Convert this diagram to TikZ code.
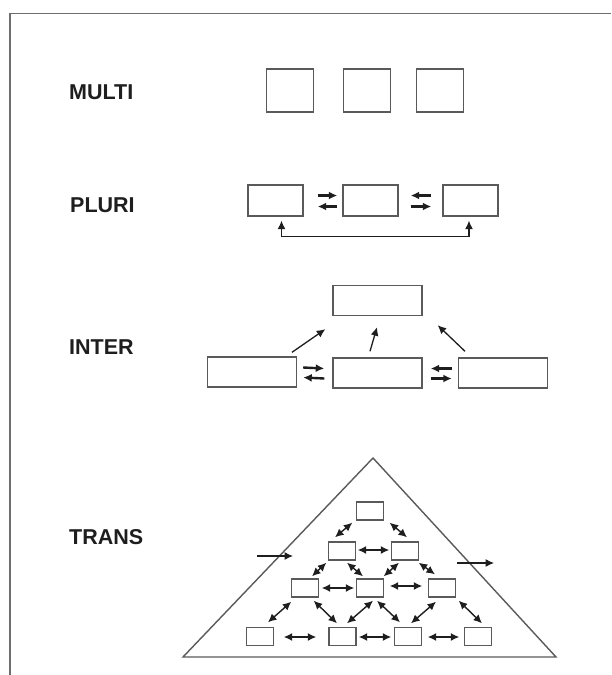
\documentclass[tikz,border=0pt]{standalone}
\usepackage{fontspec}
\setmainfont{Liberation Sans}
\usetikzlibrary{arrows.meta,calc}
\definecolor{boxgray}{HTML}{5A5A5A}
\definecolor{framegray}{HTML}{6E6E6E}
\definecolor{ink}{HTML}{1E1E1E}
\begin{document}
\begin{tikzpicture}[x=1pt,y=-1pt,
  lbl/.style={anchor=west,inner sep=0pt,text=ink,font=\fontsize{21.5}{25}\selectfont\bfseries},
  cell/.style={draw=boxgray,line width=1.4pt,inner sep=0pt,minimum width=#1},
  sq/.style={cell=47pt,minimum height=43pt},
  wide/.style={cell=55pt,minimum height=31pt},
  long/.style={cell=89pt,minimum height=30pt},
  small/.style={cell=27pt,minimum height=18pt},
  head/.tip={Latex[length=8.5pt,width=8pt]},
  tip/.style={-head,draw=ink,line width=2.4pt},
  both/.style={head-head,draw=ink,line width=1.4pt},
  thin/.style={-head,draw=ink,line width=1.1pt}]
\useasboundingbox (0,0) rectangle (611,675);
\fill[white] (0,0) rectangle (611,675);

% open frame: top and left edges only
\draw[framegray,line width=1.5pt] (10,675) -- (10,13.5) -- (611,13.5);

% row labels
\node[lbl] (lmulti) at (69,92) {MULTI};
\node[lbl] (lpluri) at (70,205) {PLURI};
\node[lbl] (linter) at (69,347) {INTER};
\node[lbl] (ltrans) at (69,537) {TRANS};

% MULTI: three separate boxes
\node[sq] (m1) at (290,90.5) {};
\node[sq] (m2) at (367,90.5) {};
\node[sq] (m3) at (440,90.5) {};

% PLURI: boxes with exchanges between neighbours
\node[wide] (p1) at (275.5,200.5) {};
\node[wide] (p2) at (370.5,200.5) {};
\node[wide] (p3) at (470.5,200.5) {};
\draw[tip] ([shift={(14,-5)}]p1.east) -- ([shift={(-5,-5)}]p2.west);
\draw[tip] ([shift={(-5,6)}]p2.west) -- ([shift={(14,6)}]p1.east);
\draw[tip] ([shift={(-11,-5)}]p3.west) -- ([shift={(12,-5)}]p2.east);
\draw[tip] ([shift={(12,6)}]p2.east) -- ([shift={(-11,6)}]p3.west);
\draw[head-head,draw=ink,line width=1.1pt] ([shift={(6,4)}]p1.south) -- ++(0,16) -| ([shift={(-1.5,4)}]p3.south);

% INTER: three boxes feeding a common box
\node[long] (i0) at (377.5,300.5) {};
\node[long] (i1) at (252,372) {};
\node[long] (i2) at (377.5,373) {};
\node[long] (i3) at (503,373) {};
\draw[thin,line width=1.3pt] ([shift={(40,-4)}]i1.north) -- ([shift={(-7,13)}]i0.south west);
\draw[thin,line width=1.3pt] ([shift={(-7.5,-6)}]i2.north) -- ([shift={(-0.5,11)}]i0.south);
\draw[thin,line width=1.3pt] ([shift={(-38,-6)}]i3.north) -- ([shift={(15,9)}]i0.south east);
\draw[tip] ([shift={(6,-4.5)}]i1.east) -- ([shift={(-8,-4.5)}]i2.west);
\draw[tip] ([shift={(-8,5.5)}]i2.west) -- ([shift={(6,5.5)}]i1.east);
\draw[tip] ([shift={(-6,-4.5)}]i3.west) -- ([shift={(8,-4.5)}]i2.east);
\draw[tip] ([shift={(8,5.5)}]i2.east) -- ([shift={(-6,5.5)}]i3.west);

% TRANS: pyramid of linked boxes
\coordinate (apex) at (373,458);
\coordinate (bl) at (183,657);
\coordinate (br) at (556,657);
\draw[boxgray,line width=1.4pt,line join=miter] (apex) -- (bl) -- (br) -- cycle;

\node[small] (t) at (370,511) {};
\node[small] (a) at (342,551) {};
\node[small] (b) at (405,551) {};
\node[small] (c) at (305,588) {};
\node[small] (d) at (370,588) {};
\node[small] (e) at (442,588) {};
\node[small] (f) at (260,636.5) {};
\node[small] (g) at (342.5,636.5) {};
\node[small] (h) at (408,636.5) {};
\node[small] (k) at (478,636.5) {};

\draw[both] ([shift={(-3.5,2)}]t.south west) -- ([shift={(-7,-4)}]a.north);
\draw[both] ([shift={(5.5,2)}]t.south east) -- ([shift={(2,-4)}]b.north);
\draw[both] ([shift={(1.5,-1)}]a.east) -- ([shift={(-1.5,-1)}]b.west);
\draw[both] ([shift={(-1.5,2)}]a.south west) -- ([shift={(7,-2)}]c.north);
\draw[both] ([shift={(5,2)}]a.south) -- ([shift={(-7,-2)}]d.north);
\draw[both] ([shift={(-6,2)}]b.south) -- ([shift={(-0.5,-2)}]d.north east);
\draw[both] ([shift={(-0.5,2)}]b.south east) -- ([shift={(-7,-4)}]e.north);
\draw[both] ([shift={(2.5,0)}]c.east) -- ([shift={(-1.5,0)}]d.west);
\draw[both] ([shift={(5.5,-2)}]d.east) -- ([shift={(-5.5,-2)}]e.west);
\draw[both] ([shift={(0.5,4)}]c.south west) -- ([shift={(8,-4.5)}]f.north);
\draw[both] ([shift={(-5.5,3)}]c.south east) -- ([shift={(-5.5,-3.5)}]g.north);
\draw[both] ([shift={(3,3)}]d.south) -- ([shift={(4.5,-3.5)}]g.north);
\draw[both] ([shift={(7,3)}]d.south) -- ([shift={(-8,-4.5)}]h.north);
\draw[both] ([shift={(-6,4)}]e.south) -- ([shift={(3,-3.5)}]h.north);
\draw[both] ([shift={(2.5,3)}]e.south east) -- ([shift={(4,-3.5)}]k.north);
\draw[both] ([shift={(9.5,0.5)}]f.east) -- ([shift={(-12,0.5)}]g.west);
\draw[both] ([shift={(2,0.5)}]g.east) -- ([shift={(-2.5,0.5)}]h.west);
\draw[both] ([shift={(5.5,0.5)}]h.east) -- ([shift={(-4.5,0.5)}]k.west);

% flow into and out of the pyramid
\coordinate (inS) at (257,556);
\coordinate (inE) at (293,556);
\coordinate (outS) at (457,563);
\coordinate (outE) at (494,563);
\draw[thin] (inS) -- (inE);
\draw[thin] (outS) -- (outE);
\end{tikzpicture}
\end{document}
